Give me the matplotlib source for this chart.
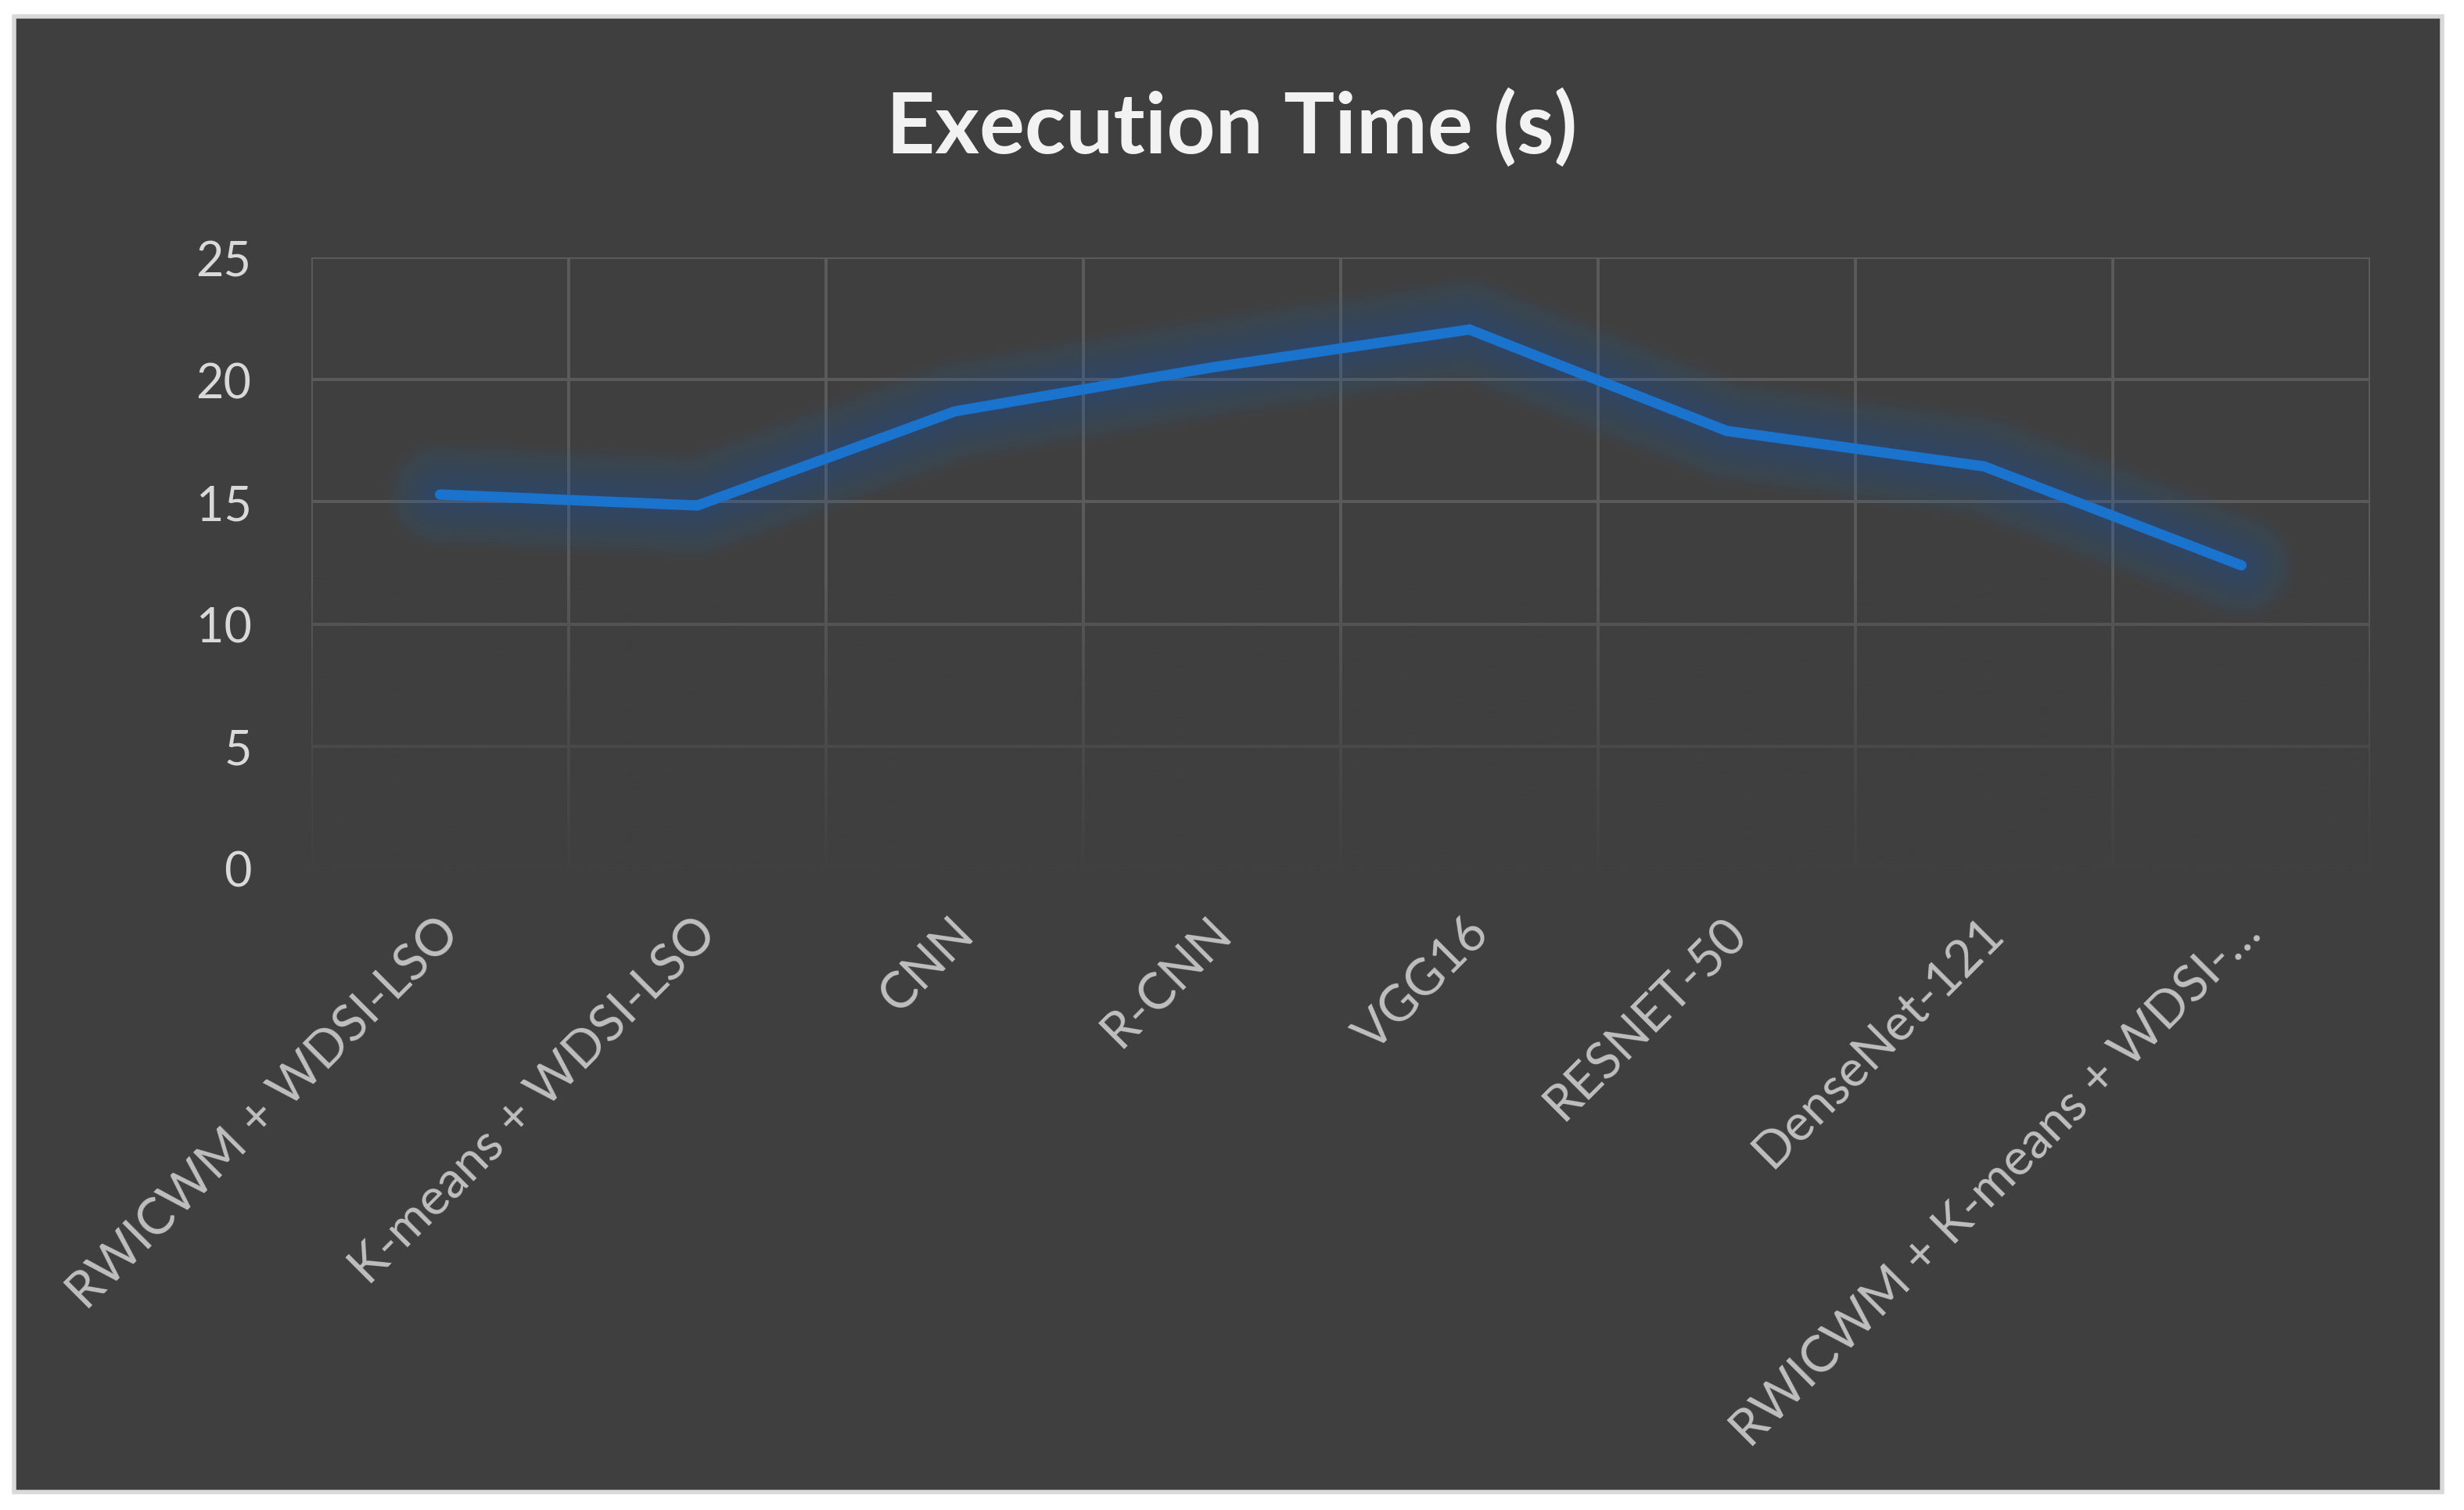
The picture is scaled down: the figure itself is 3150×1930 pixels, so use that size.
import numpy as np
import matplotlib.pyplot as plt
from matplotlib.patches import Rectangle
from matplotlib.transforms import ScaledTranslation

# data
categories = ["RWICWM + WDSI-LSO", "K-means + WDSI-LSO", "CNN", "R-CNN", "VGG16",
              "RESNET-50", "DenseNet-121", "RWICWM + K-means + WDSI-…"]
exec_time = [15.3, 14.85, 18.7, 20.5, 22.05, 17.9, 16.45, 12.4]
y_ticks = [0, 5, 10, 15, 20, 25]

BG = "#3f3f3f"
GRID = "#5b5b5b"
LINE = "#1a73cc"

plt.rcParams['font.family'] = ['Lato', 'DejaVu Sans']

W, H = 3150, 1931
fig = plt.figure(figsize=(W / 100, H / 100), dpi=100, facecolor="white")

# dark chart area with light border
fig.patches.append(Rectangle((18 / W, 1 - 1908 / H), (3122 - 18) / W, (1908 - 22) / H,
                             transform=fig.transFigure, facecolor=BG,
                             edgecolor="#d9d9d9", linewidth=4, zorder=-10))

ax = fig.add_axes([398 / W, 1 - 1111 / H, (3030 - 398) / W, (1111 - 330) / H])
ax.set_facecolor("none")
for s in ax.spines.values():
    s.set_visible(False)

x = np.arange(len(categories))

# gridlines (horizontal + between-category verticals)
for v in y_ticks:
    ax.axhline(v, color=GRID, lw=2.8, zorder=1)
for xv in np.arange(len(categories) + 1) - 0.5:
    ax.axvline(xv, color=GRID, lw=2.8, zorder=1)

# fade the grid towards the bottom
rows = 200
t = np.linspace(0, 1, rows)  # 0 at top (y=12), 1 at bottom (y=0)
grad = np.zeros((rows, 1, 4))
grad[..., :3] = np.array([0x3f, 0x3f, 0x3f]) / 255
grad[:, 0, 3] = 0.97 * t ** 0.8
ax.imshow(grad, extent=(-0.6, len(categories) - 0.4, -0.5, 12), aspect="auto",
          zorder=2, interpolation="bilinear")

# soft glow around the line
for lw in np.linspace(100, 14, 16):
    ax.plot(x, exec_time, color="#2a6fc8", lw=lw, alpha=0.022,
            solid_capstyle="round", solid_joinstyle="round", zorder=3)
ax.plot(x, exec_time, color=LINE, lw=9.5, solid_capstyle="round",
        solid_joinstyle="miter", zorder=4)

ax.set_xlim(-0.5, len(categories) - 0.5)
ax.set_ylim(0, 25)
ax.set_yticks(y_ticks)
ax.set_yticklabels([str(v) for v in y_ticks])
ax.set_xticks(x)
ax.set_xticklabels(categories, rotation=45, ha="right", va="center",
                   rotation_mode="anchor")
ax.tick_params(axis="y", length=0, pad=55, labelsize=44, labelcolor="#d9d9d9")
ax.tick_params(axis="x", length=0, pad=52, labelsize=46.5, labelcolor="#bfbfbf")
shift = ScaledTranslation(15 / 100, 0, fig.dpi_scale_trans)
for lab in ax.get_xticklabels():
    lab.set_transform(lab.get_transform() + shift)

fig.text(0.5, 1 - 163 / H, "Execution Time (s)", ha="center", va="center",
         fontsize=78, fontweight="bold", color="#f2f2f2")

fig.savefig("out.png", dpi=100, facecolor="white")
